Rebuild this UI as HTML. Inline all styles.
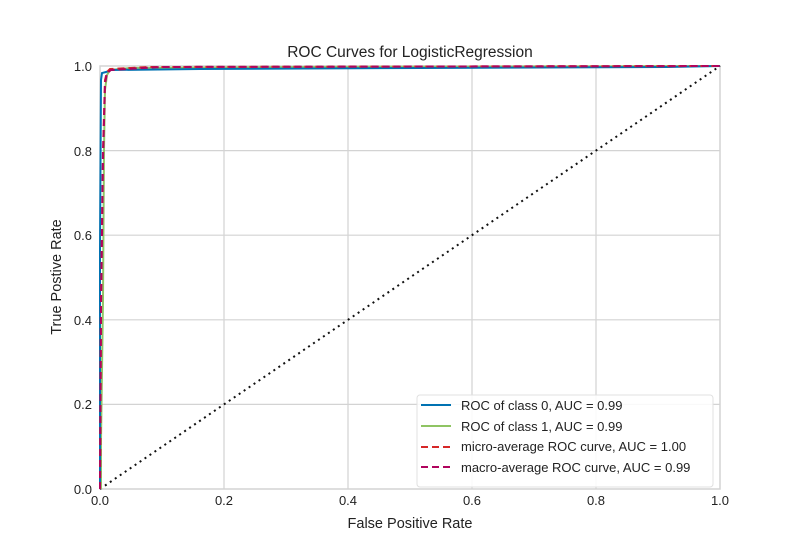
<!DOCTYPE html>
<html><head><style>body{margin:0;background:#fff}svg{display:block}</style></head><body>
<svg width="800" height="550" xmlns="http://www.w3.org/2000/svg" font-family="Liberation Sans, sans-serif">
<rect width="800" height="550" fill="#fff"/>
<g stroke="#d3d3d3" stroke-width="1.2">
<line x1="224" y1="66" x2="224" y2="489"/><line x1="348" y1="66" x2="348" y2="489"/>
<line x1="472" y1="66" x2="472" y2="489"/><line x1="596" y1="66" x2="596" y2="489"/>
<line x1="100" y1="404.4" x2="720" y2="404.4"/><line x1="100" y1="319.8" x2="720" y2="319.8"/>
<line x1="100" y1="235.2" x2="720" y2="235.2"/><line x1="100" y1="150.6" x2="720" y2="150.6"/>
</g>
<rect x="100" y="66" width="620" height="423" fill="none" stroke="#d3d3d3" stroke-width="1.5"/>
<line x1="100" y1="489" x2="720" y2="66" stroke="#111" stroke-width="2" stroke-dasharray="2,4"/>
<polyline fill="none" stroke="#8fc463" stroke-width="2" points="101,489 101,440 103,300 104,150 105,90 107,75 110,70 130,68 300,67 720,66"/>
<polyline fill="none" stroke="#0072b2" stroke-width="2" points="100,489 100,250 101,80 102,73 106,72 111,70 200,69 420,68 667,67 720,66"/>
<polyline fill="none" stroke="#d62728" stroke-width="2" stroke-dasharray="7,4" points="100,489 101,300 103,150 105,80 107,72 110,69 150,67 720,66"/>
<polyline fill="none" stroke="#b0045d" stroke-width="2" stroke-dasharray="7,4" points="100,489 101,310 103,160 105,84 107,73 111,70 160,67 720,66"/>
<g font-size="13" fill="#222">
<text x="100" y="505" text-anchor="middle">0.0</text><text x="224" y="505" text-anchor="middle">0.2</text>
<text x="348" y="505" text-anchor="middle">0.4</text><text x="472" y="505" text-anchor="middle">0.6</text>
<text x="596" y="505" text-anchor="middle">0.8</text><text x="720" y="505" text-anchor="middle">1.0</text>
<text x="92" y="494" text-anchor="end">0.0</text><text x="92" y="409" text-anchor="end">0.2</text>
<text x="92" y="325" text-anchor="end">0.4</text><text x="92" y="240" text-anchor="end">0.6</text>
<text x="92" y="156" text-anchor="end">0.8</text><text x="92" y="71" text-anchor="end">1.0</text>
</g>
<text x="410" y="528" text-anchor="middle" font-size="14.5" fill="#222">False Positive Rate</text>
<text x="61" y="277" text-anchor="middle" font-size="14.5" fill="#222" transform="rotate(-90 61 277)">True Postive Rate</text>
<text x="410" y="57" text-anchor="middle" font-size="15.5" fill="#222">ROC Curves for LogisticRegression</text>
<rect x="417" y="395" width="296" height="92" rx="3" fill="#fff" fill-opacity="0.85" stroke="#e0e0e0"/>
<line x1="421" y1="405" x2="451" y2="405" stroke="#0072b2" stroke-width="2"/>
<line x1="421" y1="426" x2="451" y2="426" stroke="#8fc463" stroke-width="2"/>
<line x1="421" y1="447" x2="451" y2="447" stroke="#d62728" stroke-width="2" stroke-dasharray="7,4"/>
<line x1="421" y1="467" x2="451" y2="467" stroke="#b0045d" stroke-width="2" stroke-dasharray="7,4"/>
<g font-size="13" fill="#222">
<text x="461" y="410">ROC of class 0, AUC = 0.99</text>
<text x="461" y="431">ROC of class 1, AUC = 0.99</text>
<text x="461" y="451">micro-average ROC curve, AUC = 1.00</text>
<text x="461" y="472">macro-average ROC curve, AUC = 0.99</text>
</g>
</svg>
</body></html>
